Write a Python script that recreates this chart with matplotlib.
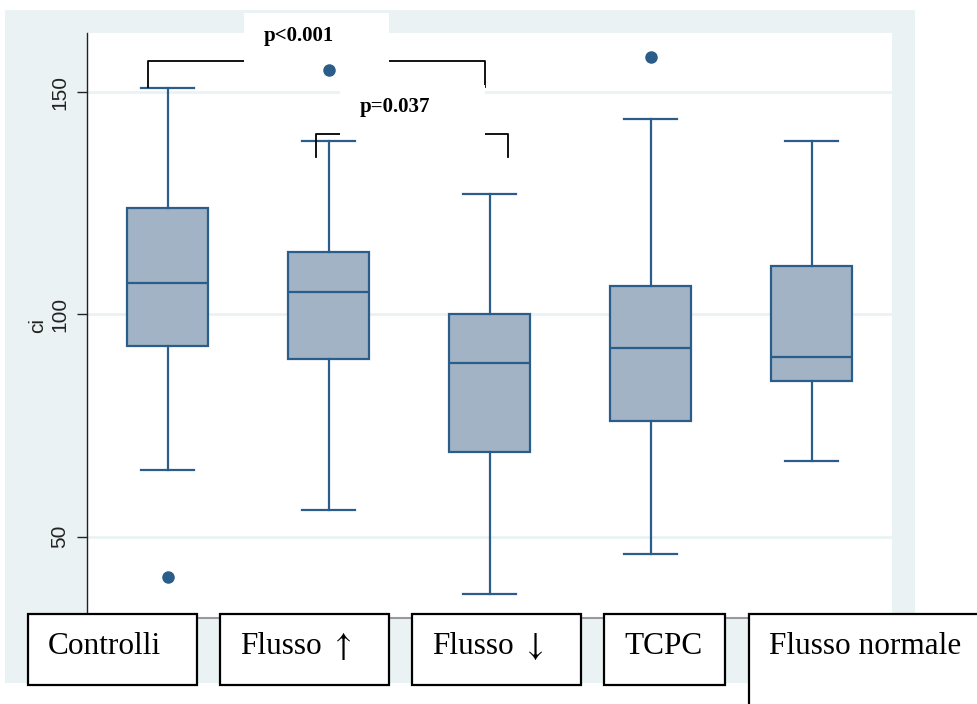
import matplotlib
matplotlib.use("Agg")
import matplotlib.pyplot as plt
from matplotlib.patches import Rectangle

# ---- data ----
categories = ["Controlli", "Flusso \u2191", "Flusso \u2193", "TCPC", "Flusso normale"]
whisker_low = [65, 56, 37, 46, 67]
q1 = [93, 90, 69, 76, 85]
median = [107, 105, 89, 92.4, 90.4]
q3 = [124, 114, 100, 106.4, 110.8]
whisker_high = [151, 139, 127, 144, 139]
outliers = [[41], [155], [], [158], []]
y_ticks = [50, 100, 150]
y_label = "ci"
p_labels = ["p<0.001", "p=0.037"]

EDGE = "#2a5d8a"
FILL = "#a1b3c5"
BG = "#eaf2f3"

W, H = 978, 704
fig = plt.figure(figsize=(W / 100, H / 100), dpi=100, facecolor="white")

def fx(px):
    return px / W

def fy(py):
    return 1 - py / H

# outer light background
fig.patches.append(Rectangle((fx(5), fy(683)), fx(915) - fx(5), fy(10) - fy(683),
                             transform=fig.transFigure, facecolor=BG, edgecolor="none", zorder=-5))

ax = fig.add_axes([fx(87), fy(618), fx(892) - fx(87), fy(33) - fy(618)])
ax.set_zorder(1)
ax.set_facecolor("white")

stats = []
for i, c in enumerate(categories):
    stats.append(dict(label=c, whislo=whisker_low[i], q1=q1[i], med=median[i],
                      q3=q3[i], whishi=whisker_high[i], fliers=outliers[i]))
positions = list(range(1, len(categories) + 1))
ax.bxp(stats, positions=positions, widths=0.5, capwidths=0.33, patch_artist=True,
       boxprops=dict(facecolor=FILL, edgecolor=EDGE, linewidth=1.6),
       medianprops=dict(color=EDGE, linewidth=1.6),
       whiskerprops=dict(color=EDGE, linewidth=1.6),
       capprops=dict(color=EDGE, linewidth=1.6),
       flierprops=dict(marker="o", markerfacecolor=EDGE, markeredgecolor=EDGE, markersize=8),
       zorder=3)

ax.set_xlim(0.5, 5.5)
ax.set_ylim(31.7, 163.3)
ax.set_xticks([])
ax.set_yticks(y_ticks)
ax.set_yticklabels([str(t) for t in y_ticks], rotation=90, va="center",
                   fontsize=15, family="Liberation Sans", color="#222222")
ax.tick_params(axis="y", length=7, width=1, pad=6, color="#222222")
ax.set_ylabel(y_label, fontsize=15, family="Liberation Sans", labelpad=2, color="#222222")
ax.yaxis.grid(True, color=BG, linewidth=2)
ax.set_axisbelow(True)
for s in ["top", "right"]:
    ax.spines[s].set_visible(False)
ax.spines["left"].set_color("#222222")
ax.spines["left"].set_linewidth(1.0)
ax.spines["bottom"].set_color("#999999")
ax.spines["bottom"].set_linewidth(1.5)

# significance brackets
def bracket(x0, x1, ytop, yl, yr):
    ax.plot([x0, x0, x1, x1], [yl, ytop, ytop, yr], color="black", lw=1.3,
            clip_on=False, zorder=4)

bracket(0.879, 2.97, 157.0, 151.1, 151.1)
bracket(1.92, 3.115, 140.6, 135.4, 135.4)

# white label boxes covering the bracket tops
fig.patches.append(Rectangle((fx(244), fy(62.5)), fx(389) - fx(244), fy(13) - fy(62.5),
                             transform=fig.transFigure, facecolor="white", edgecolor="none", zorder=5))
fig.patches.append(Rectangle((fx(340), fy(135)), fx(485) - fx(340), fy(85) - fy(135),
                             transform=fig.transFigure, facecolor="white", edgecolor="none", zorder=5))
fig.text(fx(299), fy(36), p_labels[0], ha="center", va="center", fontsize=15,
         fontweight="bold", family="Liberation Serif", zorder=6)
fig.text(fx(395), fy(107), p_labels[1], ha="center", va="center", fontsize=15,
         fontweight="bold", family="Liberation Serif", zorder=6)

# category label boxes along the bottom
label_boxes = [(28, 197), (220, 389), (412, 581), (604, 725), (749, 990)]
serif = ["Liberation Serif", "DejaVu Serif", "DejaVu Sans"]
arrow_tex = {"\u2191": r"$\uparrow$", "\u2193": r"$\downarrow$"}
for (x0, x1), c in zip(label_boxes, categories):
    y1 = 710 if x1 > W else 685
    fig.patches.append(Rectangle((fx(x0), fy(y1)), fx(x1) - fx(x0), fy(614) - fy(y1),
                                 transform=fig.transFigure, facecolor="white",
                                 edgecolor="black", linewidth=1.6, zorder=5))
    if c[-1] in arrow_tex:
        word, arrow = c[:-1].rstrip(), c[-1]
        fig.text(fx(x0 + 20), fy(654), word, ha="left", va="baseline", fontsize=22.5,
                 family=serif, zorder=6)
        fig.text(fx(x0 + 121), fy(646), arrow_tex[arrow], ha="center", va="center",
                 fontsize=24, math_fontfamily="stix", zorder=6)
    else:
        fig.text(fx(x0 + 20), fy(654), c, ha="left", va="baseline", fontsize=22.5,
                 family=serif, zorder=6)

fig.savefig("out.png", dpi=100, facecolor="white")
